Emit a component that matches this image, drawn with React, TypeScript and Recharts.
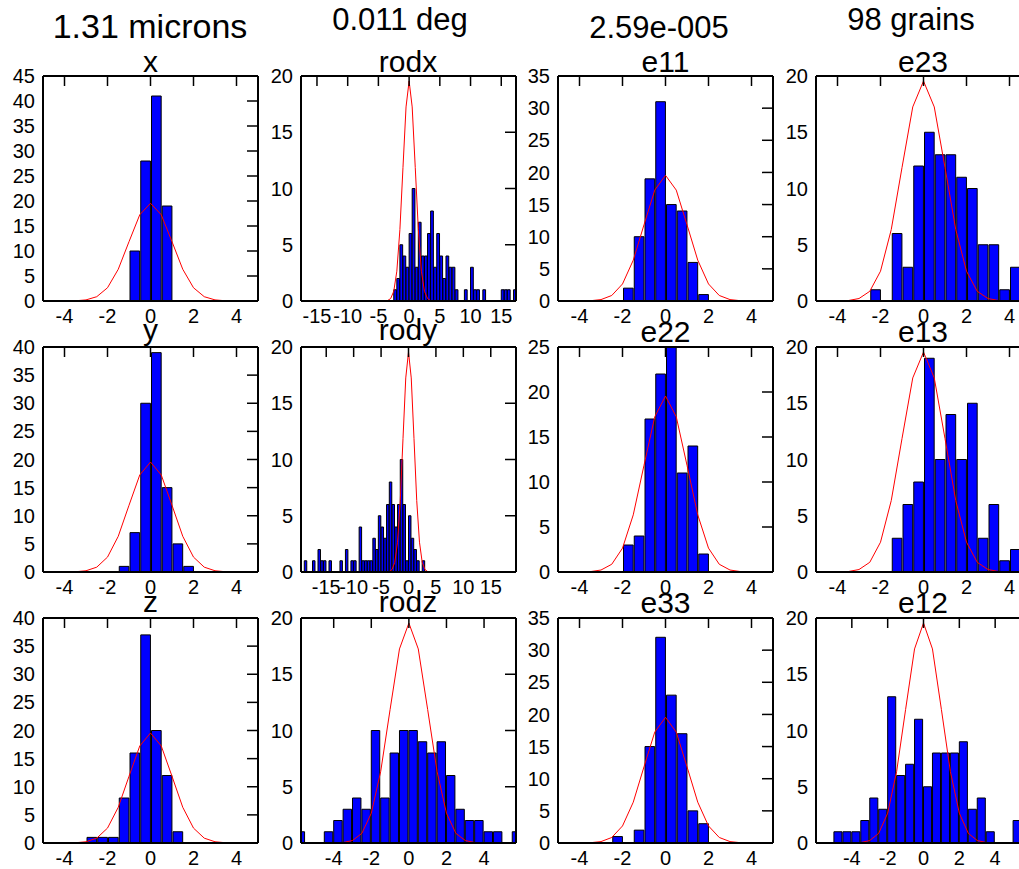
import React from 'react';
import { ComposedChart, Bar, Line, XAxis, YAxis } from 'recharts';

// ---------- data ----------
const binWidth = 0.5;

const gaussX = [-3.5, -3, -2.5, -2, -1.5, -1, -0.5, 0, 0.5, 1, 1.5, 2, 2.5, 3, 3.5];
const gaussY = [0.04, 0.22, 0.86, 2.65, 6.35, 11.86, 17.25, 19.55, 17.25, 11.86, 6.35, 2.65, 0.86, 0.22, 0.04];

const topTitles = ['1.31 microns', '0.011 deg', '2.59e-005', '98 grains'];

const xStart = -1;
const xCounts = [10, 28, 41, 19];
const yStart = -1.5;
const yCounts = [1, 7, 30, 39, 15, 5, 1];
const zStart = -3;
const zCounts = [1, 1, 1, 8, 16, 37, 20, 12, 2];

const rodxStart = -2.5;
const rodxCounts = [1, 2, 5, 4, 3, 6, 10, 3, 7, 4, 4, 6, 8, 3, 6, 4, 2, 4, 3, 3, 1, 0, 0, 1, 0, 3, 1, 1, 0, 1, 0, 0, 0, 0, 0, 1, 1, 1, 0, 1];
const rodyStart = -20;
const rodyCounts = [2, 0, 1, 0, 0, 1, 0, 2, 1, 1, 0, 1, 0, 0, 0, 1, 0, 2, 0, 1, 1, 0, 4, 1, 1, 1, 1, 3, 2, 5, 4, 3, 6, 8, 6, 4, 6, 10, 6, 1, 5, 3, 2, 1, 0, 1];
const rodzStart = -6;
const rodzCounts = [1, 0, 0, 1, 2, 3, 4, 3, 10, 4, 8, 10, 10, 9, 8, 9, 6, 3, 2, 2, 1, 1, 0, 1];

const e11Start = -2;
const e11Counts = [2, 10, 19, 31, 15, 14, 6, 1];
const e22Start = -2;
const e22Counts = [3, 4, 17, 22, 25, 11, 14, 2];
const e33Start = -2.5;
const e33Counts = [1, 0, 2, 15, 32, 23, 17, 5, 3];

const e23Start = -2.5;
const e23Counts = [1, 0, 6, 3, 12, 15, 13, 13, 11, 10, 5, 5, 1, 3];
const e13Start = -1.5;
const e13Counts = [3, 6, 8, 19, 10, 14, 10, 15, 3, 6, 1, 2];
const e12Start = -5;
const e12Counts = [1, 1, 1, 2, 4, 3, 13, 6, 7, 11, 5, 8, 8, 8, 9, 3, 4, 1, 0, 0, 2];

const ticksPm4 = [-4, -2, 0, 2, 4];
const ticksRod = [-15, -10, -5, 0, 5, 10, 15];
const yTicks45 = [0, 5, 10, 15, 20, 25, 30, 35, 40, 45];
const yTicks40 = [0, 5, 10, 15, 20, 25, 30, 35, 40];
const yTicks35 = [0, 5, 10, 15, 20, 25, 30, 35];
const yTicks25 = [0, 5, 10, 15, 20, 25];
const yTicks20 = [0, 5, 10, 15, 20];

type Cfg = {
  title: string;
  start: number;
  counts: number[];
  domain: [number, number];
  xTicks: number[];
  yTicks: number[];
};

// grid order: rows, then columns
const panels: Cfg[][] = [
  [
    { title: 'x', start: xStart, counts: xCounts, domain: [-5, 5], xTicks: ticksPm4, yTicks: yTicks45 },
    { title: 'rodx', start: rodxStart, counts: rodxCounts, domain: [-17.6, 17.4], xTicks: ticksRod, yTicks: yTicks20 },
    { title: 'e11', start: e11Start, counts: e11Counts, domain: [-5, 5], xTicks: ticksPm4, yTicks: yTicks35 },
    { title: 'e23', start: e23Start, counts: e23Counts, domain: [-5, 5], xTicks: ticksPm4, yTicks: yTicks20 },
  ],
  [
    { title: 'y', start: yStart, counts: yCounts, domain: [-5, 5], xTicks: ticksPm4, yTicks: yTicks40 },
    { title: 'rody', start: rodyStart, counts: rodyCounts, domain: [-19.6, 19.6], xTicks: ticksRod, yTicks: yTicks20 },
    { title: 'e22', start: e22Start, counts: e22Counts, domain: [-5, 5], xTicks: ticksPm4, yTicks: yTicks25 },
    { title: 'e13', start: e13Start, counts: e13Counts, domain: [-5, 5], xTicks: ticksPm4, yTicks: yTicks20 },
  ],
  [
    { title: 'z', start: zStart, counts: zCounts, domain: [-5, 5], xTicks: ticksPm4, yTicks: yTicks40 },
    { title: 'rodz', start: rodzStart, counts: rodzCounts, domain: [-5.74, 5.7], xTicks: ticksPm4, yTicks: yTicks20 },
    { title: 'e33', start: e33Start, counts: e33Counts, domain: [-5, 5], xTicks: ticksPm4, yTicks: yTicks35 },
    { title: 'e12', start: e12Start, counts: e12Counts, domain: [-6, 6], xTicks: ticksPm4, yTicks: yTicks20 },
  ],
];

// ---------- layout ----------
const plotLefts = [43, 300.5, 558, 815.5];
const plotTops = [76, 346.5, 617.5];
const plotW = 215;
const plotH = 225;
const axisW = 45;
const axisH = 35;
const pad = 15;
const tickFont = 20;
const topTitleCenters = [150, 400, 659, 911];
const topTitleBaselines = [38, 30, 38, 30];
const topTitleSizes = [34, 31, 31, 31];
const subTitleBaselines = [[72, 72, 72, 72], [340, 340, 342, 342], [612, 612, 613, 613]];

const noTick = () => <g />;

function Panel({ cfg, left, top }: { cfg: Cfg; left: number; top: number }) {
  const bars = cfg.counts.map((c, i) => ({ x: cfg.start + binWidth * (i + 0.5), n: c }));
  const curve = gaussX.map((x, i) => ({ x, g: gaussY[i] }));
  const barPx = (plotW * binWidth) / (cfg.domain[1] - cfg.domain[0]);
  const yDomain: [number, number] = [0, cfg.yTicks[cfg.yTicks.length - 1]];
  const frame = { stroke: '#000', strokeWidth: 2 };
  return (
    <div style={{ position: 'absolute', left: left - axisW, top: top - pad }}>
      <ComposedChart
        width={axisW + plotW + pad}
        height={pad + plotH + axisH}
        data={bars}
        margin={{ top: pad, right: pad, bottom: 0, left: 0 }}
        barCategoryGap={0}
        barGap={0}
      >
        <XAxis
          xAxisId="b"
          dataKey="x"
          type="number"
          orientation="bottom"
          domain={cfg.domain}
          allowDataOverflow
          ticks={cfg.xTicks}
          interval={0}
          height={axisH}
          tickLine={false}
          axisLine={frame}
          tick={{ fill: '#000', fontSize: tickFont }}
        />
        <XAxis
          xAxisId="t"
          dataKey="x"
          type="number"
          orientation="top"
          mirror
          domain={cfg.domain}
          allowDataOverflow
          ticks={cfg.xTicks}
          interval={0}
          tickSize={10}
          tickLine={{ stroke: '#000', strokeWidth: 1.5 }}
          axisLine={frame}
          tick={noTick}
        />
        <YAxis
          yAxisId="l"
          type="number"
          orientation="left"
          domain={yDomain}
          allowDataOverflow
          ticks={cfg.yTicks}
          interval={0}
          width={axisW}
          tickLine={false}
          axisLine={frame}
          tick={{ fill: '#000', fontSize: tickFont }}
        />
        <YAxis
          yAxisId="r"
          type="number"
          orientation="right"
          mirror
          domain={yDomain}
          allowDataOverflow
          ticks={cfg.yTicks}
          interval={0}
          tickSize={11}
          tickLine={{ stroke: '#000', strokeWidth: 1.5 }}
          axisLine={frame}
          tick={noTick}
        />
        <Bar
          xAxisId="b"
          yAxisId="l"
          dataKey="n"
          fill="#0000ff"
          stroke="#000"
          strokeWidth={1}
          barSize={barPx}
          isAnimationActive={false}
        />
        <Line
          xAxisId="t"
          yAxisId="r"
          data={curve}
          dataKey="g"
          type="linear"
          stroke="#ff0000"
          strokeWidth={1}
          dot={false}
          activeDot={false}
          isAnimationActive={false}
        />
      </ComposedChart>
    </div>
  );
}

export default function App() {
  return (
    <div
      style={{
        position: 'relative',
        width: 1019,
        height: 869,
        overflow: 'hidden',
        background: '#fff',
        fontFamily: '"Liberation Sans", Arial, sans-serif',
      }}
    >
      <style>{'html,body{margin:0;padding:0;overflow:hidden;background:#fff}'}</style>
      {panels.map((row, r) =>
        row.map((cfg, c) => <Panel key={`${r}-${c}`} cfg={cfg} left={plotLefts[c]} top={plotTops[r]} />)
      )}
      <svg
        width={1019}
        height={869}
        style={{ position: 'absolute', left: 0, top: 0, pointerEvents: 'none' }}
      >
        {topTitles.map((t, c) => (
          <text
            key={t}
            x={topTitleCenters[c]}
            y={topTitleBaselines[c]}
            textAnchor="middle"
            fontSize={topTitleSizes[c]}
            fill="#000"
          >
            {t}
          </text>
        ))}
        {panels.map((row, r) =>
          row.map((cfg, c) => (
            <text
              key={cfg.title}
              x={plotLefts[c] + plotW / 2}
              y={subTitleBaselines[r][c]}
              textAnchor="middle"
              fontSize={30}
              fill="#000"
            >
              {cfg.title}
            </text>
          ))
        )}
      </svg>
    </div>
  );
}
